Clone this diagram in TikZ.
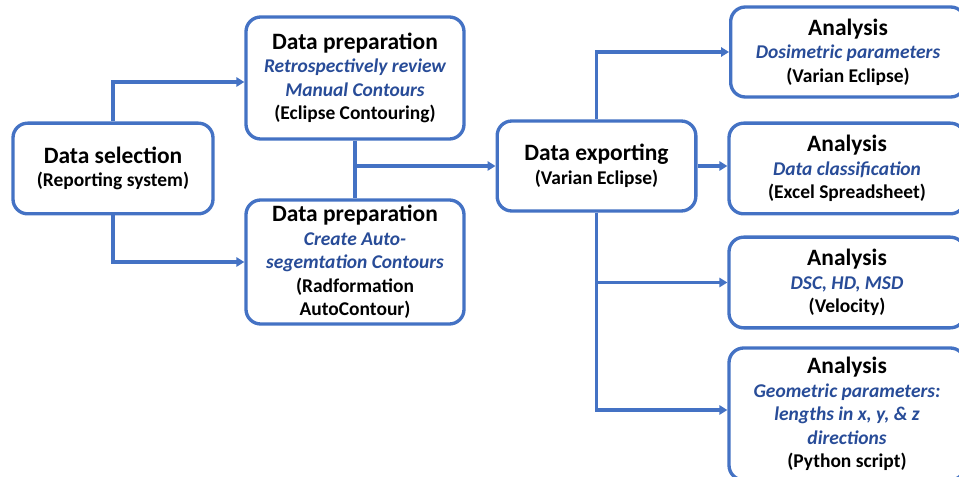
\documentclass[tikz,border=0pt]{standalone}
\usepackage{fontspec}
\setmainfont{Carlito}
\usetikzlibrary{arrows.meta}
\definecolor{flowblue}{RGB}{68,114,196}
\definecolor{noteblue}{RGB}{40,76,152}
\newcommand{\boxtitle}[1]{{\fontsize{17.6}{20}\selectfont #1}}
\newcommand{\boxnote}[1]{{\color{noteblue}\itshape #1}}
\tikzset{
  stagebox/.style={draw=flowblue, line width=2.5pt, rounded corners=11pt,
    align=center, inner sep=2pt, font=\fontsize{14.6}{17.6}\selectfont\bfseries},
  flow/.style={draw=flowblue, line width=2.4pt,
    -{Triangle[length=6pt,width=7pt]}},
  joint/.style={draw=flowblue, line width=2.4pt}
}
\begin{document}
\begin{tikzpicture}[x=0.75pt,y=-0.75pt]
\clip (0,0) rectangle (959,477);
\useasboundingbox (0,0) rectangle (959,477);
\fill[white] (0,0) rectangle (959,477);
% boxes
\node[stagebox, minimum width=150pt, minimum height=68pt] (sel) at (113,168.5)
  {\boxtitle{Data selection}\\(Reporting system)};
\node[stagebox, minimum width=163.5pt, minimum height=91.5pt] (prep1) at (355,78)
  {\boxtitle{Data preparation}\\\boxnote{Retrospectively review}\\\boxnote{Manual Contours}\\(Eclipse Contouring)};
\node[stagebox, minimum width=163.5pt, minimum height=93pt] (prep2) at (355,262)
  {\boxtitle{Data preparation}\\\boxnote{Create Auto-}\\\boxnote{segemtation Contours}\\(Radformation\\AutoContour)};
\node[stagebox, minimum width=149pt, minimum height=67.5pt] (exp) at (596.5,166)
  {\boxtitle{Data exporting}\\(Varian Eclipse)};
\node[stagebox, minimum width=176pt, minimum height=67.5pt] (an1) at (848,52)
  {\boxtitle{Analysis}\\\boxnote{Dosimetric parameters}\\(Varian Eclipse)};
\node[stagebox, minimum width=177pt, minimum height=68pt] (an2) at (847,168.5)
  {\boxtitle{Analysis}\\\boxnote{Data classification}\\(Excel Spreadsheet)};
\node[stagebox, minimum width=177pt, minimum height=68pt] (an3) at (847,282.5)
  {\boxtitle{Analysis}\\\boxnote{DSC, HD, MSD}\\(Velocity)};
\node[stagebox, minimum width=177pt, minimum height=99pt] (an4) at (847,414)
  {\boxtitle{Analysis}\\\boxnote{Geometric parameters:}\\\boxnote{lengths in x, y, \& z}\\\boxnote{directions}\\(Python script)};
% connectors
\draw[flow] (sel.north) |- ([yshift=-3pt]prep1.west);
\draw[flow] (sel.south) |- (prep2.west);
\draw[joint] (prep1.south) -- (prep2.north);
\draw[flow] (prep1.south |- exp.west) -- (exp.west);
\draw[flow] (exp.north) |- (an1.west);
\draw[flow] (exp.east) -- (exp.east -| an2.west);
\draw[flow] (exp.south) |- (an3.west);
\draw[flow] (exp.south) |- ([yshift=3pt]an4.west);
\end{tikzpicture}
\end{document}
